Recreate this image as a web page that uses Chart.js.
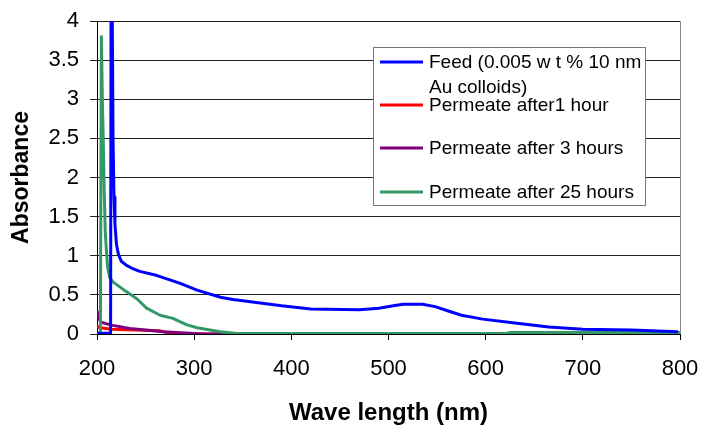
<!DOCTYPE html>
<html>
<head>
<meta charset="utf-8">
<script src="https://cdn.jsdelivr.net/npm/chart.js@4.4.1/dist/chart.umd.min.js"></script>
<style>
    html, body { margin: 0; padding: 0; background: #fff; }
    #wrap { width: 704px; height: 425px; }
</style>
</head>
<body>
<div id="wrap"><canvas id="grafico" width="704" height="425"></canvas></div>
<script>
// ── Datos ──────────────────────────────────────
const yTicks = [0, 0.5, 1, 1.5, 2, 2.5, 3, 3.5, 4];
const xTicks = [200, 300, 400, 500, 600, 700, 800];

const seriesLabels = [
    ['Feed (0.005 w t % 10 nm', 'Au colloids)'],
    ['Permeate after1 hour'],
    ['Permeate after 3 hours'],
    ['Permeate after 25 hours']
];
const seriesColors = ['#0000ff', '#ff0000', '#800080', '#339966'];

const feedNm  = [200, 214, 214.5, 215.5, 216.5, 217.5, 218.5, 220, 222, 225, 230, 236, 244, 261, 285, 303, 327, 340, 360, 390, 420, 470, 490, 505, 515, 535, 548, 560, 575, 597, 630, 665, 700, 750, 798];
const feedAbs = [0.01, 0.01, 4.5, 4.5, 2.5, 1.75, 1.4, 1.15, 1.02, 0.93, 0.88, 0.84, 0.8, 0.75, 0.65, 0.56, 0.47, 0.44, 0.41, 0.36, 0.32, 0.31, 0.33, 0.36, 0.38, 0.38, 0.35, 0.3, 0.24, 0.19, 0.14, 0.09, 0.06, 0.05, 0.03];

const p1Nm  = [200, 203, 215, 240, 265, 275, 290, 800];
const p1Abs = [0.1, 0.08, 0.06, 0.05, 0.04, 0.01, 0, 0];

const p3Nm  = [200, 202, 204, 216, 234, 268, 296, 310, 580];
const p3Abs = [0.3, 0.2, 0.15, 0.11, 0.07, 0.03, 0.01, 0, 0];

const p25Nm  = [200, 203.5, 204.5, 205.5, 206.5, 207.5, 208.5, 209.5, 211, 213, 217, 227, 241, 251, 265, 278, 292, 303, 327, 344, 620, 625, 800];
const p25Abs = [0, 0, 3.8, 3.0, 2.45, 1.8, 1.3, 1.1, 0.85, 0.72, 0.66, 0.57, 0.45, 0.33, 0.24, 0.2, 0.12, 0.08, 0.03, 0.005, 0.005, 0.02, 0.02];

const FONT = "'Liberation Sans', Arial, sans-serif";

function puntos(xs, ys) {
    return xs.map((x, i) => ({ x, y: ys[i] }));
}

// ── Leyenda y borde derecho ───────────────────
const leyendaPlugin = {
    id: 'leyenda',
    afterDraw(chart) {
        const ctx = chart.ctx;
        const a = chart.chartArea;
        ctx.save();
        // borde derecho
        ctx.strokeStyle = '#888';
        ctx.lineWidth = 1;
        ctx.beginPath();
        ctx.moveTo(a.right + 0.5, a.top);
        ctx.lineTo(a.right + 0.5, a.bottom);
        ctx.stroke();

        // caja
        ctx.fillStyle = '#fff';
        ctx.fillRect(373, 47, 272, 159);
        ctx.strokeStyle = '#777';
        ctx.strokeRect(373.5, 47.5, 272, 158);

        const filas = [62, 105, 148, 192];
        ctx.font = '19px ' + FONT;
        ctx.textBaseline = 'middle';
        ctx.textAlign = 'left';
        filas.forEach((y, i) => {
            ctx.strokeStyle = seriesColors[i];
            ctx.lineWidth = 3;
            ctx.beginPath();
            ctx.moveTo(380, y);
            ctx.lineTo(423, y);
            ctx.stroke();
            ctx.fillStyle = '#000';
            seriesLabels[i].forEach((t, j) => ctx.fillText(t, 429, y + 1 + j * 24.5));
        });
        ctx.restore();
    }
};

new Chart(document.getElementById('grafico'), {
    type: 'line',
    data: {
        datasets: [
            { data: puntos(feedNm, feedAbs), borderColor: seriesColors[0], order: 1 },
            { data: puntos(p1Nm, p1Abs),     borderColor: seriesColors[1], order: 4 },
            { data: puntos(p3Nm, p3Abs),     borderColor: seriesColors[2], order: 3 },
            { data: puntos(p25Nm, p25Abs),   borderColor: seriesColors[3], order: 2 }
        ]
    },
    options: {
        responsive: false,
        animation: false,
        datasets: { line: { borderWidth: 3, borderJoinStyle: 'round', pointRadius: 0, tension: 0, fill: false } },
        layout: { padding: { top: 21, right: 24, left: 0, bottom: 0 } },
        plugins: { legend: { display: false }, tooltip: { enabled: false } },
        scales: {
            x: {
                type: 'linear',
                min: 200, max: 800,
                afterFit: s => { s.height = 91; s.paddingLeft = 0; s.paddingRight = 0; },
                afterBuildTicks: s => { s.ticks = xTicks.map(v => ({ value: v })); },
                grid: { drawOnChartArea: false, drawTicks: true, tickLength: 6, color: '#000' },
                border: { color: '#000', width: 1 },
                ticks: { color: '#000', font: { family: FONT, size: 22 }, padding: 16, maxRotation: 0 },
                title: {
                    display: true, text: 'Wave length (nm)', color: '#000',
                    font: { family: FONT, size: 24, weight: 'bold', lineHeight: 1 },
                    padding: { top: 0, bottom: 0 }
                }
            },
            y: {
                min: 0, max: 4,
                afterFit: s => { s.width = 97; s.paddingTop = 0; s.paddingBottom = 0; },
                afterBuildTicks: s => { s.ticks = yTicks.map(v => ({ value: v })); },
                grid: { color: '#222', tickLength: 7 },
                border: { color: '#000', width: 1 },
                ticks: { color: '#000', font: { family: FONT, size: 22 }, padding: 11, callback: v => String(v) },
                title: {
                    display: true, text: 'Absorbance', color: '#000',
                    font: { family: FONT, size: 23, weight: 'bold', lineHeight: 1 },
                    padding: { top: 10, bottom: 0 }
                }
            }
        }
    },
    plugins: [leyendaPlugin]
});
</script>
</body>
</html>
